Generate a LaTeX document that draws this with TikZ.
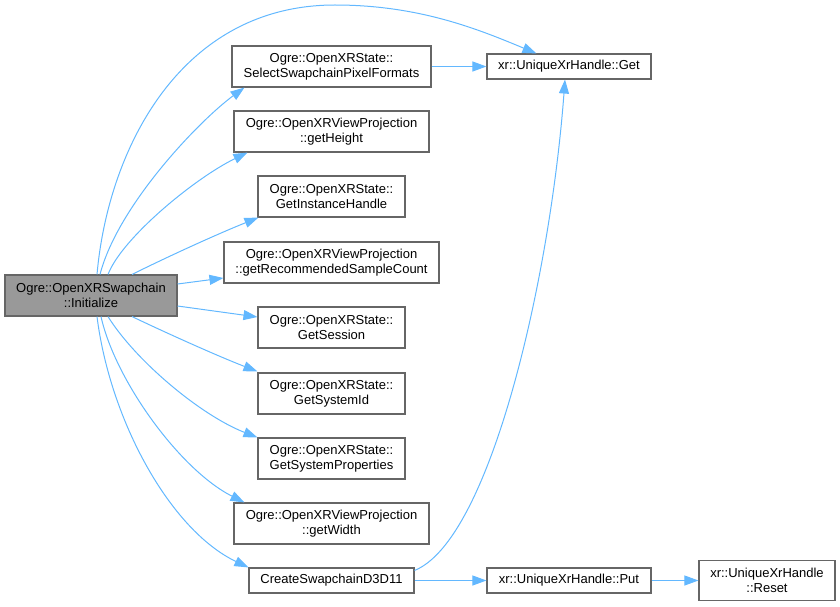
\documentclass[tikz,border=0pt]{standalone}
\usepackage{fontspec}
\setmainfont{Liberation Sans}
\usetikzlibrary{arrows.meta,calc}
\definecolor{edgec}{HTML}{63B8FF}
\definecolor{boxc}{HTML}{666666}
\definecolor{initc}{HTML}{999999}
\begin{document}
\begin{tikzpicture}[x=1pt,y=-1pt,
  box/.style={draw=boxc,line width=1.1pt,fill=white,inner sep=0pt,align=center,
    font=\fontsize{13}{15}\selectfont},
  callarrow/.style={draw=edgec,line width=1pt,-{Triangle[length=14pt,width=10pt]}}]
\useasboundingbox (0,0) rectangle (840,607);
% nodes
\node[box,fill=initc,minimum width=172pt,minimum height=41pt] (init) at (91,295.5) {Ogre::OpenXRSwapchain\\::Initialize};
\node[box,minimum width=199pt,minimum height=41pt] (sel) at (331.5,66.5) {Ogre::OpenXRState::\\SelectSwapchainPixelFormats};
\node[box,minimum width=195pt,minimum height=41pt] (gh) at (331.5,131.5) {Ogre::OpenXRViewProjection\\::getHeight};
\node[box,minimum width=147pt,minimum height=41pt] (gih) at (331.5,196.5) {Ogre::OpenXRState::\\GetInstanceHandle};
\node[box,minimum width=215pt,minimum height=41pt] (grsc) at (331.5,262.5) {Ogre::OpenXRViewProjection\\::getRecommendedSampleCount};
\node[box,minimum width=147pt,minimum height=41pt] (gs) at (331.5,327.5) {Ogre::OpenXRState::\\GetSession};
\node[box,minimum width=147pt,minimum height=41pt] (gsid) at (331.5,393.5) {Ogre::OpenXRState::\\GetSystemId};
\node[box,minimum width=147pt,minimum height=41pt] (gsp) at (331.5,458.5) {Ogre::OpenXRState::\\GetSystemProperties};
\node[box,minimum width=195pt,minimum height=41pt] (gw) at (331.5,523.5) {Ogre::OpenXRViewProjection\\::getWidth};
\node[box,minimum width=165pt,minimum height=25pt] (csd) at (331.5,580.5) {CreateSwapchainD3D11};
\node[box,minimum width=164pt,minimum height=25pt] (get) at (569,66.5) {xr::UniqueXrHandle::Get};
\node[box,minimum width=164pt,minimum height=25pt] (put) at (569,580.5) {xr::UniqueXrHandle::Put};
\node[box,minimum width=136pt,minimum height=40pt] (reset) at (767,580.5) {xr::UniqueXrHandle\\::Reset};
% edges
\draw[callarrow] ($(init.north)+(6,0)$) .. controls (108,150) and (180,5) .. (335,5)
   .. controls (420,5) and (480,30) .. ($(get.north west)+(50,0)$);
\draw[callarrow] ($(init.north)+(9,0)$) .. controls (118,205) and (200,120) .. ($(sel.south west)+(13,0)$);
\draw[callarrow] ($(init.north)+(17,0)$) .. controls (122,238) and (195,178) .. ($(gh.south west)+(14,0)$);
\draw[callarrow] ($(init.north)+(41,0)$) .. controls (165,258) and (215,235) .. ($(gih.south west)+(1,0)$);
\draw[callarrow] ($(init.east)+(0,-11.5)$) -- ($(grsc.west)+(0,15.5)$);
\draw[callarrow] ($(init.east)+(0,10.5)$) -- ($(gs.west)+(0,-10.5)$);
\draw[callarrow] ($(init.south)+(41,0)$) .. controls (160,330) and (215,355) .. ($(gsid.north west)+(0,-1)$);
\draw[callarrow] ($(init.south)+(17,0)$) .. controls (135,360) and (200,415) .. (gsp.north west);
\draw[callarrow] ($(init.south)+(10,0)$) .. controls (115,380) and (180,470) .. ($(gw.north west)+(11,0)$);
\draw[callarrow] ($(init.south)+(6,0)$) .. controls (110,420) and (170,530) .. (csd.north west);
\draw[callarrow] (sel.east) -- (get.west);
\draw[callarrow] ($(csd.north east)+(0,3)$) .. controls (490,540) and (550,280) .. ($(get.south)+(-4,0)$);
\draw[callarrow] (csd.east) -- (put.west);
\draw[callarrow] (put.east) -- (reset.west);
\end{tikzpicture}
\end{document}
